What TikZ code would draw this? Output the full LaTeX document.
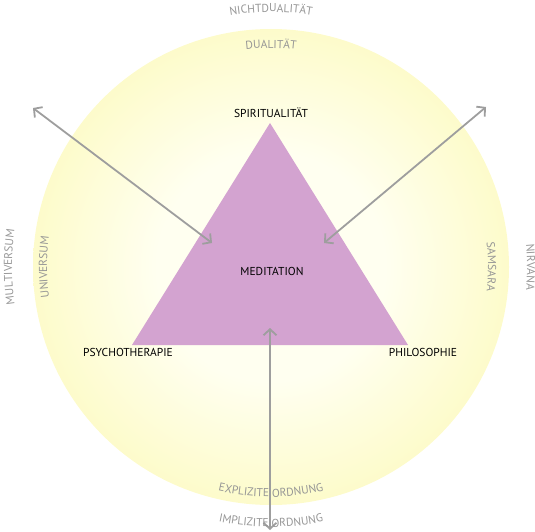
\documentclass[tikz,border=0pt]{standalone}
\usepackage{fontspec}
\setmainfont{PT Sans}
\usetikzlibrary{arrows.meta,decorations.text}
\definecolor{glowin}{RGB}{255,255,240}
\definecolor{glowmid}{RGB}{253,251,200}
\definecolor{glowedge}{RGB}{248,243,132}
\definecolor{triangle}{RGB}{211,163,208}
\definecolor{arrowgray}{RGB}{158,158,158}
\definecolor{labelgray}{RGB}{150,150,150}
\pgfdeclareradialshading{glow}{\pgfpoint{0bp}{0bp}}{color(0bp)=(glowin); color(12bp)=(glowin); color(26bp)=(glowmid); color(35.4bp)=(glowedge); color(50bp)=(glowedge)}
\newcommand\ringfont{\fontsize{11.5}{13}\selectfont\color{labelgray}}
\begin{document}
\begin{tikzpicture}[x=1pt,y=1pt,
    corner/.style={font=\fontsize{11.5}{13}\selectfont},
    ring/.style={decorate,decoration={text along path,text align=center,text={|\ringfont|#1}}},
    pointer/.style={draw=arrowgray,line width=1.8pt,{Straight Barb[length=6pt,width=13pt]}-{Straight Barb[length=6pt,width=13pt]}}]
    \useasboundingbox (0,0) rectangle (535,531);
    \coordinate (center) at (271,264);
    \shade[shading=glow] (center) circle[radius=238];

    \coordinate (apex) at (270,408);
    \coordinate (left) at (132,186);
    \coordinate (right) at (408,186);
    \fill[triangle] (apex) -- (left) -- (right) -- cycle;

    \coordinate (nw) at (33,423);
    \coordinate (ne) at (486,424);
    \coordinate (south) at (270,1);
    \coordinate (inl) at (212,288);
    \coordinate (inr) at (324,288);
    \coordinate (inb) at (270,203);
    \draw[pointer] (nw) -- (inl);
    \draw[pointer] (ne) -- (inr);
    \draw[pointer] (south) -- (inb);

    \node[corner] (spirit) at (271,418){SPIRITUALITÄT};
    \node[corner] (medit) at (272,260){MEDITATION};
    \node[corner] (psycho) at (128,179){PSYCHOTHERAPIE};
    \node[corner] (philo) at (423,179){PHILOSOPHIE};

    \path[ring=DUALITÄT] (center) ++(130:219) arc[start angle=130,end angle=50,radius=219];
    \path[ring=NICHTDUALITÄT] (center) ++(120:255) arc[start angle=120,end angle=60,radius=255];
    \path[ring=EXPLIZITE ORDNUNG] (center) ++(235:230) arc[start angle=235,end angle=305,radius=230];
    \path[ring=IMPLIZITE ORDNUNG] (center) ++(240:260) arc[start angle=240,end angle=300,radius=260];
    \path[ring=UNIVERSUM] (center) ++(210:224) arc[start angle=210,end angle=150,radius=224];
    \path[ring=MULTIVERSUM] (center) ++(210:259) arc[start angle=210,end angle=150,radius=259];
    \path[ring=SAMSARA] (center) ++(30:217) arc[start angle=30,end angle=-30,radius=217];
    \path[ring=NIRVANA] (center) ++(30:256) arc[start angle=30,end angle=-30,radius=256];
\end{tikzpicture}
\end{document}
